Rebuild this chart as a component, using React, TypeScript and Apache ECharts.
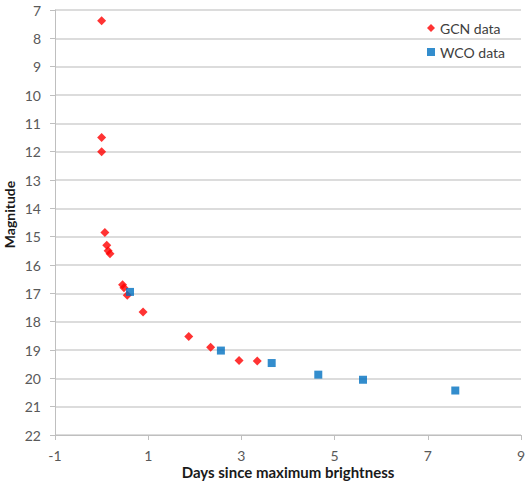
import React, { useEffect, useRef } from "react";
import * as echarts from "echarts";

const gcnX = [0.0, 0.0, 0.0, 0.07, 0.11, 0.14, 0.18, 0.45, 0.48, 0.55, 0.89, 1.87, 2.34, 2.95, 3.34];
const gcnY = [7.38, 11.5, 12.0, 14.85, 15.3, 15.5, 15.6, 16.7, 16.8, 17.07, 17.66, 18.52, 18.9, 19.37, 19.39];
const wcoX = [0.61, 2.56, 3.65, 4.65, 5.61, 7.59];
const wcoY = [16.95, 19.02, 19.46, 19.87, 20.05, 20.43];
const xTicks = [-1, 1, 3, 5, 7, 9];

const FONT = "Lato, 'Open Sans', sans-serif";

export default function App() {
  const ref = useRef<HTMLDivElement>(null);
  useEffect(() => {
    if (!ref.current) return;
    const chart = echarts.init(ref.current, undefined, { renderer: "svg" });
    chart.setOption({
      animation: false,
      textStyle: { fontFamily: FONT },
      grid: { left: 55, right: 6, top: 10, bottom: 48, containLabel: false, outerBoundsMode: "none" },
      legend: {
        orient: "vertical",
        right: 17,
        top: 16,
        itemWidth: 8,
        itemHeight: 8,
        itemGap: 10,
        textStyle: { fontFamily: FONT, fontSize: 14, color: "#404040" },
        data: [
          { name: "GCN data", icon: "diamond" },
          { name: "WCO data", icon: "rect" },
        ],
      },
      xAxis: {
        type: "value",
        min: -1,
        max: 9,
        name: "Days since maximum brightness",
        nameLocation: "middle",
        nameMoveOverlap: false,
        nameGap: 29,
        nameTextStyle: { fontFamily: FONT, fontSize: 15, fontWeight: "bold", color: "#1a1a1a" },
        axisLine: { show: true, onZero: false, lineStyle: { color: "#bfbfbf", width: 1 } },
        axisTick: { show: true, customValues: xTicks, length: 5, lineStyle: { color: "#bfbfbf" } },
        axisLabel: { customValues: xTicks, fontFamily: FONT, fontSize: 14, color: "#595959", margin: 13 },
        splitLine: { show: false },
      },
      yAxis: {
        type: "value",
        inverse: true,
        min: 7,
        max: 22,
        interval: 1,
        name: "Magnitude",
        nameLocation: "middle",
        nameMoveOverlap: false,
        nameGap: 39,
        nameTextStyle: { fontFamily: FONT, fontSize: 14, fontWeight: "bold", color: "#1a1a1a", padding: [0, 0, 0, 16] },
        axisLine: { show: true, onZero: false, lineStyle: { color: "#bfbfbf", width: 1 } },
        axisTick: { show: true, length: 5, lineStyle: { color: "#bfbfbf" } },
        axisLabel: { fontFamily: FONT, fontSize: 14, color: "#595959", margin: 14 },
        splitLine: { show: true, lineStyle: { color: "#d0d0d0", width: 1.5 } },
      },
      series: [
        {
          name: "GCN data",
          type: "scatter",
          symbol: "diamond",
          symbolSize: 9,
          itemStyle: { color: "#ff0000" },
          data: gcnX.map((x, i) => [x, gcnY[i]]),
        },
        {
          name: "WCO data",
          type: "scatter",
          symbol: "rect",
          symbolSize: 8,
          itemStyle: { color: "#0070c0" },
          data: wcoX.map((x, i) => [x, wcoY[i]]),
        },
      ],
    });
    return () => chart.dispose();
  }, []);
  return <div ref={ref} style={{ width: 527, height: 483, position: "absolute", left: 0, top: 0 }} />;
}
